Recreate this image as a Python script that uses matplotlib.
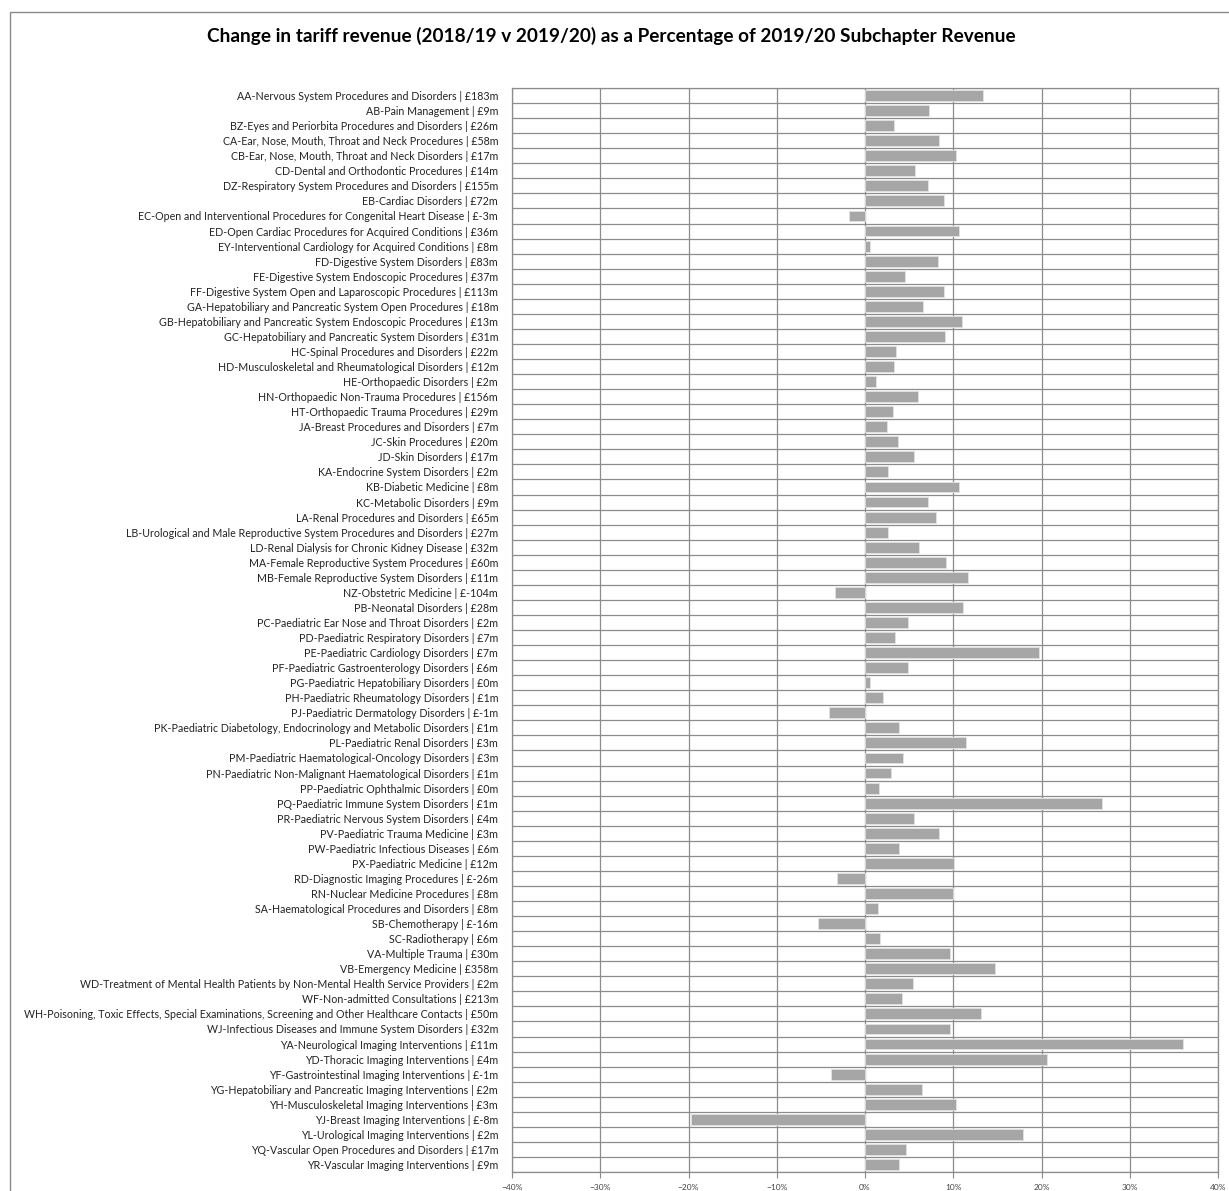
import matplotlib
matplotlib.use("Agg")
import matplotlib.pyplot as plt
from matplotlib.patches import Rectangle
from matplotlib.ticker import FixedLocator, PercentFormatter

plt.rcParams['font.family'] = ['Lato', 'DejaVu Sans']

# subchapter labels, top to bottom
labels = [
    "AA-Nervous System Procedures and Disorders | £183m",
    "AB-Pain Management | £9m",
    "BZ-Eyes and Periorbita Procedures and Disorders | £26m",
    "CA-Ear, Nose, Mouth, Throat and Neck Procedures | £58m",
    "CB-Ear, Nose, Mouth, Throat and Neck Disorders | £17m",
    "CD-Dental and Orthodontic Procedures | £14m",
    "DZ-Respiratory System Procedures and Disorders | £155m",
    "EB-Cardiac Disorders | £72m",
    "EC-Open and Interventional Procedures for Congenital Heart Disease | £-3m",
    "ED-Open Cardiac Procedures for Acquired Conditions | £36m",
    "EY-Interventional Cardiology for Acquired Conditions | £8m",
    "FD-Digestive System Disorders | £83m",
    "FE-Digestive System Endoscopic Procedures | £37m",
    "FF-Digestive System Open and Laparoscopic Procedures | £113m",
    "GA-Hepatobiliary and Pancreatic System Open Procedures | £18m",
    "GB-Hepatobiliary and Pancreatic System Endoscopic Procedures | £13m",
    "GC-Hepatobiliary and Pancreatic System Disorders | £31m",
    "HC-Spinal Procedures and Disorders | £22m",
    "HD-Musculoskeletal and Rheumatological Disorders | £12m",
    "HE-Orthopaedic Disorders | £2m",
    "HN-Orthopaedic Non-Trauma Procedures | £156m",
    "HT-Orthopaedic Trauma Procedures | £29m",
    "JA-Breast Procedures and Disorders | £7m",
    "JC-Skin Procedures | £20m",
    "JD-Skin Disorders | £17m",
    "KA-Endocrine System Disorders | £2m",
    "KB-Diabetic Medicine | £8m",
    "KC-Metabolic Disorders | £9m",
    "LA-Renal Procedures and Disorders | £65m",
    "LB-Urological and Male Reproductive System Procedures and Disorders | £27m",
    "LD-Renal Dialysis for Chronic Kidney Disease | £32m",
    "MA-Female Reproductive System Procedures | £60m",
    "MB-Female Reproductive System Disorders | £11m",
    "NZ-Obstetric Medicine | £-104m",
    "PB-Neonatal Disorders | £28m",
    "PC-Paediatric Ear Nose and Throat Disorders | £2m",
    "PD-Paediatric Respiratory Disorders | £7m",
    "PE-Paediatric Cardiology Disorders | £7m",
    "PF-Paediatric Gastroenterology Disorders | £6m",
    "PG-Paediatric Hepatobiliary Disorders | £0m",
    "PH-Paediatric Rheumatology Disorders | £1m",
    "PJ-Paediatric Dermatology Disorders | £-1m",
    "PK-Paediatric Diabetology, Endocrinology and Metabolic Disorders | £1m",
    "PL-Paediatric Renal Disorders | £3m",
    "PM-Paediatric Haematological-Oncology Disorders | £3m",
    "PN-Paediatric Non-Malignant Haematological Disorders | £1m",
    "PP-Paediatric Ophthalmic Disorders | £0m",
    "PQ-Paediatric Immune System Disorders | £1m",
    "PR-Paediatric Nervous System Disorders | £4m",
    "PV-Paediatric Trauma Medicine | £3m",
    "PW-Paediatric Infectious Diseases | £6m",
    "PX-Paediatric Medicine | £12m",
    "RD-Diagnostic Imaging Procedures | £-26m",
    "RN-Nuclear Medicine Procedures | £8m",
    "SA-Haematological Procedures and Disorders | £8m",
    "SB-Chemotherapy | £-16m",
    "SC-Radiotherapy | £6m",
    "VA-Multiple Trauma | £30m",
    "VB-Emergency Medicine | £358m",
    "WD-Treatment of Mental Health Patients by Non-Mental Health Service Providers | £2m",
    "WF-Non-admitted Consultations | £213m",
    "WH-Poisoning, Toxic Effects, Special Examinations, Screening and Other Healthcare Contacts | £50m",
    "WJ-Infectious Diseases and Immune System Disorders | £32m",
    "YA-Neurological Imaging Interventions | £11m",
    "YD-Thoracic Imaging Interventions | £4m",
    "YF-Gastrointestinal Imaging Interventions | £-1m",
    "YG-Hepatobiliary and Pancreatic Imaging Interventions | £2m",
    "YH-Musculoskeletal Imaging Interventions | £3m",
    "YJ-Breast Imaging Interventions | £-8m",
    "YL-Urological Imaging Interventions | £2m",
    "YQ-Vascular Open Procedures and Disorders | £17m",
    "YR-Vascular Imaging Interventions | £9m",
]

# change as % of 2019/20 subchapter revenue
pct_change = [
    13.4, 7.2, 3.3, 8.4, 10.3, 5.7, 7.1, 8.9, -1.8, 10.6,
    0.6, 8.3, 4.5, 8.9, 6.6, 11.0, 9.1, 3.5, 3.3, 1.2,
    6.0, 3.2, 2.5, 3.7, 5.6, 2.6, 10.6, 7.1, 8.1, 2.6,
    6.1, 9.2, 11.7, -3.4, 11.1, 4.9, 3.4, 19.7, 4.9, 0.6,
    2.0, -4.1, 3.8, 11.4, 4.3, 3.0, 1.6, 26.8, 5.5, 8.4,
    3.8, 10.1, -3.2, 10.0, 1.5, -5.3, 1.7, 9.6, 14.7, 5.4,
    4.2, 13.2, 9.6, 36.0, 20.6, -3.9, 6.5, 10.3, -19.7, 17.9,
    4.6, 3.9,
]

x_ticks = [-40, -30, -20, -10, 0, 10, 20, 30, 40]

W, H = 1229, 1191
fig = plt.figure(figsize=(W / 100, H / 100), dpi=100)

# chart frame
fig.patches.append(Rectangle((10 / W, -0.1), 1.2, 1 - 12 / H + 0.1, transform=fig.transFigure,
                             fill=False, edgecolor='#8a8a8a', linewidth=1.0))

fig.text(611 / W, 1 - 36 / H,
         "Change in tariff revenue (2018/19 v 2019/20) as a Percentage of 2019/20 Subchapter Revenue",
         ha='center', va='center', fontsize=13.7, fontweight='bold', color='black')

ax = fig.add_axes([512 / W, 1 - 1172 / H, (1218 - 512) / W, (1172 - 88) / H])

n = len(labels)
pos = list(range(n))
ax.barh(pos, pct_change, height=0.72, color='#a6a6a6', edgecolor='#e2e2e2', linewidth=0.6, zorder=3)

ax.set_xlim(-40, 40)
ax.set_ylim(n - 0.5, -0.5)
ax.set_yticks(pos)
ax.set_yticklabels(labels, fontsize=7.7, color='#222222')
ax.yaxis.set_minor_locator(FixedLocator([i + 0.5 for i in range(-1, n)]))
ax.tick_params(axis='y', which='both', length=0, pad=10)

ax.set_xticks(x_ticks)
ax.xaxis.set_major_formatter(PercentFormatter(decimals=0))
ax.tick_params(axis='x', labelsize=6, colors='#444444', length=4, width=0.8,
               direction='out', pad=5, color='#888888')

ax.grid(axis='x', which='major', color='#8c8c8c', linewidth=0.9, zorder=1)
ax.grid(axis='y', which='minor', color='#8c8c8c', linewidth=0.9, zorder=1)
for s in ax.spines.values():
    s.set_color('#8c8c8c')
    s.set_linewidth(0.9)
ax.set_axisbelow(True)

fig.savefig('out.png', dpi=100)
